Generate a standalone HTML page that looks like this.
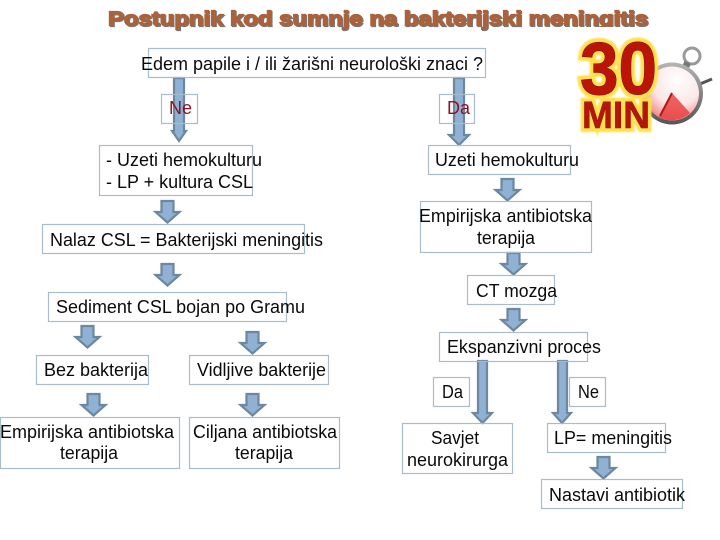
<!DOCTYPE html>
<html lang="hr">
<head>
<meta charset="utf-8">
<title>Postupnik kod sumnje na bakterijski meningitis</title>
<style>
html,body{margin:0;padding:0;background:#fff;width:720px;height:540px;overflow:hidden}
svg{display:block}
.t{font-family:"Liberation Sans",sans-serif;font-size:18px;fill:#0a0a0a}
.b{fill:none;stroke:#a9bcc8;stroke-width:1.2}
.a{fill:#8fb1d3;stroke:#6d87a0;stroke-width:2.2}
</style>
</head>
<body>
<svg width="720" height="540" viewBox="0 0 720 540" xmlns="http://www.w3.org/2000/svg">
<defs>
<radialGradient id="dial" cx="0.6" cy="0.25" r="0.85"><stop offset="0" stop-color="#ffffff"/><stop offset="0.55" stop-color="#fbe6e6"/><stop offset="1" stop-color="#f07070"/></radialGradient>
<linearGradient id="rim" x1="0" y1="0" x2="0" y2="1"><stop offset="0" stop-color="#b5b5b5"/><stop offset="1" stop-color="#555"/></linearGradient>
<filter id="glow" x="-20%" y="-20%" width="140%" height="140%"><feGaussianBlur stdDeviation="0.8"/></filter>
<polygon id="ar" class="a" points="6.500,1 18.500,1 18.500,12 24.500,12 12.500,22.500 0.500,12 6.500,12"/>
</defs>

<!-- title -->
<text x="108" y="25.500" textLength="540" lengthAdjust="spacingAndGlyphs" font-family="Liberation Sans, sans-serif" font-weight="700" font-size="20" fill="#777" stroke="#777" stroke-width="1.300" transform="translate(1,1)">Postupnik kod sumnje na bakterijski meningitis</text>
<text x="108" y="25.500" textLength="540" lengthAdjust="spacingAndGlyphs" font-family="Liberation Sans, sans-serif" font-weight="700" font-size="20" fill="#a9623c" stroke="#a9623c" stroke-width="1.300">Postupnik kod sumnje na bakterijski meningitis</text>
<rect x="525" y="27" width="150" height="12" fill="#fff"/>

<!-- stopwatch -->
<g>
<circle cx="692" cy="56" r="8" fill="none" stroke="#9a9a9a" stroke-width="3"/>
<rect x="683" y="62" width="7" height="6" fill="#777" transform="rotate(25 686 65)"/>
<line x1="700" y1="84" x2="712" y2="79" stroke="#555" stroke-width="3"/>
<circle cx="672" cy="93.500" r="31" fill="url(#rim)"/>
<circle cx="672" cy="93.500" r="27" fill="url(#dial)"/>
<path d="M672 93 L659 117 A27 27 0 0 0 690 113 Z" fill="#e83a3a" opacity=".8"/>
<line x1="672" y1="93" x2="660" y2="116" stroke="#b01818" stroke-width="2"/>
</g>
<!-- 30 MIN -->
<g font-family="Liberation Sans, sans-serif" font-weight="700" style="paint-order:stroke">
<text x="580" y="94" textLength="77" lengthAdjust="spacingAndGlyphs" font-size="74" fill="#ffe050" stroke="#ffe050" stroke-width="9" filter="url(#glow)">30</text>
<text x="582" y="128" textLength="68" lengthAdjust="spacingAndGlyphs" font-size="38" fill="#ffe050" stroke="#ffe050" stroke-width="8" filter="url(#glow)">MIN</text>
<text x="580" y="94" textLength="77" lengthAdjust="spacingAndGlyphs" font-size="74" fill="#bb1408" stroke="#7c0d05" stroke-width="1">30</text>
<text x="582" y="128" textLength="68" lengthAdjust="spacingAndGlyphs" font-size="38" fill="#b5160b" stroke="#7c0d05" stroke-width=".6">MIN</text>
</g>

<!-- long arrows -->
<polygon points="174,78 184,78 184,131 186,131 179,141 172,131 174,131" fill="#8fb1d3" stroke="#6d87a0" stroke-width="2.200"/>
<polygon points="454,78 464,78 464,135 469,135 459,145 449,135 454,135" fill="#8fb1d3" stroke="#6d87a0" stroke-width="2.200"/>
<polygon points="478,361 487,361 487,413 492,413 482.500,423 473,413 478,413" fill="#8fb1d3" stroke="#6d87a0" stroke-width="2.200"/>
<polygon points="558,361 567,361 567,413 571,413 562,423 553,413 558,413" fill="#8fb1d3" stroke="#6d87a0" stroke-width="2.200"/>

<!-- short arrows -->
<use href="#ar" x="155" y="200"/>
<use href="#ar" x="155" y="263"/>
<use href="#ar" x="75" y="325"/>
<use href="#ar" x="240" y="331"/>
<use href="#ar" x="81" y="393"/>
<use href="#ar" x="240" y="393"/>
<use href="#ar" x="495" y="178"/>
<use href="#ar" x="501" y="252"/>
<use href="#ar" x="501" y="308"/>
<use href="#ar" x="591" y="456"/>

<!-- boxes -->
<rect class="b" x="148.500" y="48.500" width="337" height="29"/>
<rect class="b" x="161.500" y="94.500" width="36" height="29"/>
<rect class="b" x="439.500" y="94.500" width="35" height="29"/>
<rect class="b" x="99.500" y="145.500" width="153" height="50"/>
<rect class="b" x="42.500" y="224.500" width="262" height="29"/>
<rect class="b" x="48.500" y="292.500" width="238" height="29"/>
<rect class="b" x="36.500" y="355.500" width="112" height="29"/>
<rect class="b" x="189.500" y="355.500" width="139" height="29"/>
<rect class="b" x="0.500" y="417.500" width="179" height="51"/>
<rect class="b" x="189.500" y="417.500" width="150" height="51"/>
<rect class="b" x="428.500" y="145.500" width="142" height="29"/>
<rect class="b" x="420.500" y="201.500" width="171" height="51"/>
<rect class="b" x="467.500" y="275.500" width="87" height="29"/>
<rect class="b" x="439.500" y="332.500" width="148" height="29"/>
<rect class="b" x="433.500" y="377.500" width="36" height="29"/>
<rect class="b" x="569.500" y="377.500" width="36" height="29"/>
<rect class="b" x="402.500" y="423.500" width="110" height="50"/>
<rect class="b" x="547.500" y="423.500" width="118" height="29"/>
<rect class="b" x="541.500" y="479.500" width="141" height="29"/>

<!-- labels -->
<g>
<text class="t" x="141" y="70" textLength="342" lengthAdjust="spacingAndGlyphs">Edem papile i / ili žarišni neurološki znaci ?</text>
<text class="t" x="169" y="114" textLength="23" lengthAdjust="spacingAndGlyphs" style="fill:#8b1420">Ne</text>
<text class="t" x="447" y="114" textLength="23" lengthAdjust="spacingAndGlyphs" style="fill:#8b1420">Da</text>
<text class="t" x="106" y="166" textLength="156" lengthAdjust="spacingAndGlyphs">- Uzeti hemokulturu</text>
<text class="t" x="106" y="188" textLength="147" lengthAdjust="spacingAndGlyphs">- LP + kultura CSL</text>
<text class="t" x="50" y="246" textLength="273" lengthAdjust="spacingAndGlyphs">Nalaz CSL = Bakterijski meningitis</text>
<text class="t" x="56" y="313" textLength="249" lengthAdjust="spacingAndGlyphs">Sediment CSL bojan po Gramu</text>
<text class="t" x="44" y="376" textLength="104" lengthAdjust="spacingAndGlyphs">Bez bakterija</text>
<text class="t" x="197" y="376" textLength="129" lengthAdjust="spacingAndGlyphs">Vidljive bakterije</text>
<text class="t" x="0" y="438" textLength="174" lengthAdjust="spacingAndGlyphs">Empirijska antibiotska</text>
<text class="t" x="60" y="459" textLength="58" lengthAdjust="spacingAndGlyphs">terapija</text>
<text class="t" x="193" y="438" textLength="144" lengthAdjust="spacingAndGlyphs">Ciljana antibiotska</text>
<text class="t" x="235" y="459" textLength="58" lengthAdjust="spacingAndGlyphs">terapija</text>
<text class="t" x="435" y="166" textLength="144" lengthAdjust="spacingAndGlyphs">Uzeti hemokulturu</text>
<text class="t" x="419" y="222" textLength="173" lengthAdjust="spacingAndGlyphs">Empirijska antibiotska</text>
<text class="t" x="477" y="244" textLength="58" lengthAdjust="spacingAndGlyphs">terapija</text>
<text class="t" x="476" y="297" textLength="81" lengthAdjust="spacingAndGlyphs">CT mozga</text>
<text class="t" x="447" y="353" textLength="154" lengthAdjust="spacingAndGlyphs">Ekspanzivni proces</text>
<text class="t" x="442" y="398" textLength="21" lengthAdjust="spacingAndGlyphs">Da</text>
<text class="t" x="578" y="398" textLength="21" lengthAdjust="spacingAndGlyphs">Ne</text>
<text class="t" x="431" y="444" textLength="48" lengthAdjust="spacingAndGlyphs">Savjet</text>
<text class="t" x="407" y="466" textLength="101" lengthAdjust="spacingAndGlyphs">neurokirurga</text>
<text class="t" x="554" y="444" textLength="118" lengthAdjust="spacingAndGlyphs">LP= meningitis</text>
<text class="t" x="549" y="501" textLength="136" lengthAdjust="spacingAndGlyphs">Nastavi antibiotik</text>
</g>
</svg>
</body>
</html>
